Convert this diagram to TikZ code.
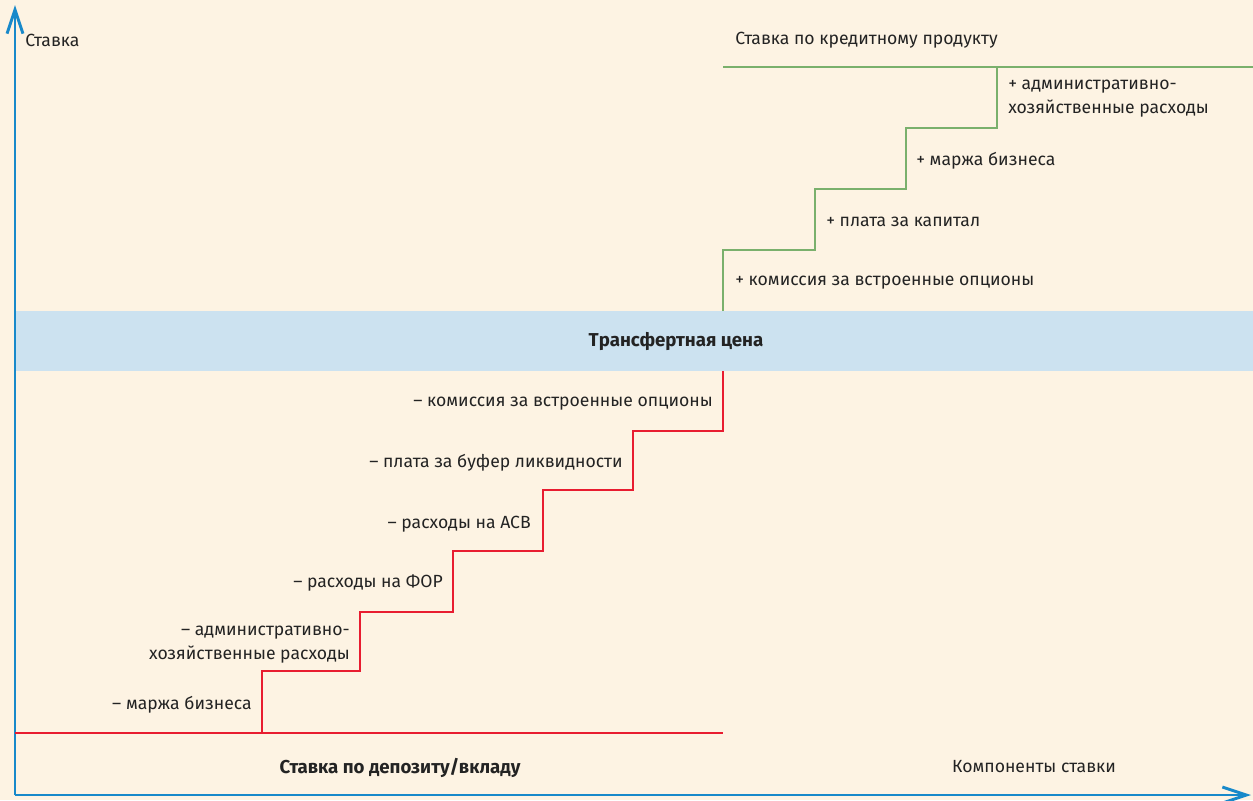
\documentclass[tikz,border=0pt]{standalone}
\usepackage{fontspec}
\setmainfont{Fira Sans}
\usetikzlibrary{arrows.meta}
\definecolor{paper}{RGB}{253,243,227}
\definecolor{axisblue}{RGB}{24,137,202}
\definecolor{bandblue}{RGB}{204,226,240}
\definecolor{depred}{RGB}{232,28,48}
\definecolor{credgreen}{RGB}{122,176,108}
\definecolor{ink}{RGB}{35,35,35}

\tikzset{
  axisline/.style={axisblue, line width=2.2pt, -{Straight Barb[length=18pt, width=12pt, line width=2.2pt]}},
  minuslabel/.style={anchor=east, align=right},
  pluslabel/.style={anchor=west, align=left},
  boldlabel/.style={font=\fontsize{14}{16}\selectfont\bfseries},
}

\begin{document}
\begin{tikzpicture}[x=0.75pt, y=-0.75pt, every node/.style={font=\fontsize{13.2}{18}\selectfont, text=ink, inner sep=0pt}]
  % page and the transfer price band
  \useasboundingbox (0,0) rectangle (1253,800);
  \fill[paper] (0,0) rectangle (1253,800);
  \fill[bandblue] (15,311) rectangle (1253,371);
  \node[boldlabel] (tp) at (676,341) {Трансфертная цена};

  % axes
  \coordinate (origin) at (15,795);
  \coordinate (ytop) at (15,5);
  \coordinate (xend) at (1251,795);
  \draw[axisline] (origin) -- (ytop);
  \draw[axisline] (origin) -- (xend);
  \node[anchor=west] (ylab) at (25,40) {Ставка};
  \node (xlab) at (1034,767) {Компоненты ставки};

  % deposit side: red staircase up to the band
  \coordinate (dep0) at (15,733);
  \coordinate (dep1) at (723,733);
  \draw[depred, line width=2.2pt] (dep0) -- (dep1);
  \draw[depred, line width=1.1pt] (262,733) -- (262,671) -- (360,671) -- (360,612)
    -- (453,612) -- (453,551) -- (543,551) -- (543,490) -- (633,490) -- (633,431)
    -- (723,431) -- (723,371);
  \node[minuslabel] (d1) at (252,705) {– маржа бизнеса};
  \node[minuslabel] (d2) at (350,645) {– административно-\\хозяйственные расходы};
  \node[minuslabel] (d3) at (443,583) {– расходы на ФОР};
  \node[minuslabel] (d4) at (531,524) {– расходы на АСВ};
  \node[minuslabel] (d5) at (623,463) {– плата за буфер ликвидности};
  \node[minuslabel] (d6) at (713,404) {– комиссия за встроенные опционы};
  \node[boldlabel] (deplab) at (400,768) {Ставка по депозиту/вкладу};

  % credit side: green staircase up from the band
  \coordinate (cred0) at (723,67);
  \coordinate (cred1) at (1253,67);
  \draw[credgreen, line width=2.2pt] (cred0) -- (cred1);
  \draw[credgreen, line width=1.1pt] (723,311) -- (723,250) -- (815,250) -- (815,189)
    -- (906,189) -- (906,128) -- (997,128) -- (997,67);
  \node[pluslabel] (c1) at (735,283) {+ комиссия за встроенные опционы};
  \node[pluslabel] (c2) at (826,222) {+ плата за капитал};
  \node[pluslabel] (c3) at (916,161) {+ маржа бизнеса};
  \node[pluslabel] (c4) at (1008,99) {+ административно-\\хозяйственные расходы};
  \node[anchor=west] (credlab) at (735,40) {Ставка по кредитному продукту};
\end{tikzpicture}
\end{document}
